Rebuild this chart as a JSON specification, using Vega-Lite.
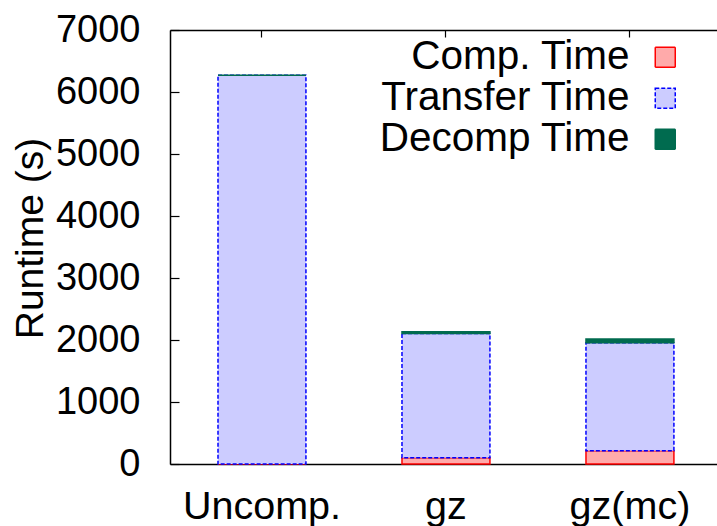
{
  "$schema": "https://vega.github.io/schema/vega-lite/v6.json",
  "autosize": "none",
  "padding": {"left": 170, "top": 30, "right": 0, "bottom": 62},
  "width": 547,
  "height": 434,
  "background": "white",
  "config": {
    "font": "Liberation Sans",
    "view": {"stroke": null},
    "axis": {"grid": false, "domainColor": "black", "domainWidth": 1.5, "tickColor": "black", "tickWidth": 1.2, "labelColor": "black", "titleColor": "black", "labelFont": "Liberation Sans", "titleFont": "Liberation Sans", "labelFontSize": 38, "titleFontSize": 39, "titleFontWeight": "normal"},
    "legend": {
      "orient": "none", "legendX": 475, "legendY": 7, "padding": 0,
      "symbolType": "square", "symbolSize": 400, "symbolStrokeWidth": 1.5,
      "labelFont": "Liberation Sans", "labelFontSize": 40.5, "labelColor": "black",
      "labelAlign": "right", "labelOffset": -56, "labelLimit": 0, "rowPadding": 0
    }
  },
  "data": {
    "values": [
      {"method": "Uncomp.", "series": "Comp. Time", "k": 1, "runtime": 0},
      {"method": "Uncomp.", "series": "Transfer Time", "k": 2, "runtime": 6270},
      {"method": "Uncomp.", "series": "Decomp Time", "k": 3, "runtime": 0},
      {"method": "gz", "series": "Comp. Time", "k": 1, "runtime": 100},
      {"method": "gz", "series": "Transfer Time", "k": 2, "runtime": 2005},
      {"method": "gz", "series": "Decomp Time", "k": 3, "runtime": 30},
      {"method": "gz(mc)", "series": "Comp. Time", "k": 1, "runtime": 214},
      {"method": "gz(mc)", "series": "Transfer Time", "k": 2, "runtime": 1742},
      {"method": "gz(mc)", "series": "Decomp Time", "k": 3, "runtime": 60}
    ]
  },
  "layer": [
    {
      "mark": {"type": "bar", "strokeWidth": 1.5},
      "encoding": {
        "x": {
          "field": "method", "type": "nominal", "sort": ["Uncomp.", "gz", "gz(mc)"],
          "scale": {"paddingInner": 0.522, "paddingOuter": 0.2475, "align": 0.527},
          "axis": {"orient": "bottom", "title": null, "labelAngle": 0, "ticks": false, "labelPadding": 23, "labelBaseline": "top", "labelFontSize": 39.5}
        },
        "y": {
          "field": "runtime", "type": "quantitative", "stack": "zero",
          "scale": {"domain": [0, 7000], "nice": false},
          "axis": {"title": "Runtime (s)", "format": "d", "values": [0, 1000, 2000, 3000, 4000, 5000, 6000, 7000], "tickSize": -9, "labelPadding": 39, "titleAngle": -90, "titleBaseline": "alphabetic", "titleAlign": "center", "titleX": -128, "titleY": 208}
        },
        "order": {"field": "k", "type": "quantitative", "sort": "ascending"},
        "fill": {
          "field": "series", "type": "nominal", "title": null,
          "scale": {"domain": ["Comp. Time", "Transfer Time", "Decomp Time"], "range": ["#ffaaaa", "#ccccff", "#006b4f"]}
        },
        "stroke": {
          "field": "series", "type": "nominal", "title": null,
          "scale": {"domain": ["Comp. Time", "Transfer Time", "Decomp Time"], "range": ["#ff0000", "#0000ff", "#006b4f"]}
        },
        "strokeDash": {
          "field": "series", "type": "nominal", "title": null,
          "scale": {"domain": ["Comp. Time", "Transfer Time", "Decomp Time"], "range": [[1, 0], [4, 2], [1, 0]]}
        }
      }
    },
    {
      "mark": {"type": "rule", "opacity": 0},
      "encoding": {
        "x": {
          "field": "method", "type": "nominal", "sort": ["Uncomp.", "gz", "gz(mc)"],
          "axis": {"orient": "top", "title": null, "labels": false, "tickSize": -7, "domain": true}
        }
      }
    }
  ],
  "resolve": {"axis": {"x": "independent"}}
}
